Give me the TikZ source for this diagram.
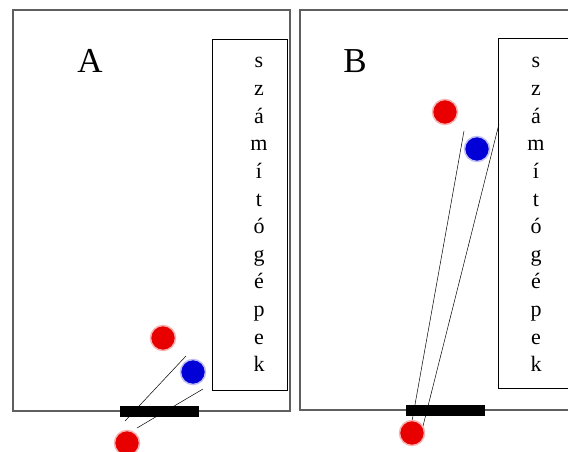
\documentclass[tikz,border=0pt]{standalone}
\usepackage{fontspec}
\setmainfont{Liberation Serif}
\definecolor{BallRed}{RGB}{232,0,0}
\definecolor{BallBlue}{RGB}{0,0,215}
\definecolor{FrameGray}{RGB}{95,95,95}
\usetikzlibrary{positioning}

\begin{document}
\begin{tikzpicture}[x=1pt, y=-1pt,
        frame/.style={draw=FrameGray, line width=1.3pt},
        screen/.style={draw=black, line width=0.9pt},
        bar/.style={fill=black},
        ray/.style={black, line width=0.5pt},
        redball/.style={circle, fill=BallRed, draw=BallRed!30, line width=1.5pt, minimum size=25pt, inner sep=0pt},
        blueball/.style={circle, fill=BallBlue, draw=BallBlue!25, line width=1.5pt, minimum size=25pt, inner sep=0pt},
        letter/.style={font=\fontsize{22}{22}\selectfont, anchor=base},
        panellabel/.style={font=\fontsize{35}{35}\selectfont, anchor=base},
    ]
    \useasboundingbox (0,0) rectangle (568,452);
    \clip (0,0) rectangle (568,452);
    % frames and screens
    \draw[frame] (13,10) rectangle (290,411);
    \draw[screen] (212,39) rectangle (287,390);
    \draw[frame] (300,10) rectangle (590,410);
    \draw[screen] (498,38) rectangle (590,388);
    \node[panellabel] (labA) at (90,73) {A};
    \node[panellabel] (labB) at (355,73) {B};
    \foreach \ch [count=\i from 0] in {s,z,á,m,í,t,ó,g,é,p,e,k} {
        \node[letter] (A-\i) at (259,68+27.6*\i) {\ch};
        \node[letter] (B-\i) at (536,68+27.6*\i) {\ch};
    }
    % rays
    \coordinate (A-r1a) at (186,356);
    \coordinate (A-r1b) at (125,421);
    \coordinate (A-r2a) at (203,389);
    \coordinate (A-r2b) at (137,428);
    \coordinate (B-r1a) at (464,131);
    \coordinate (B-r1b) at (411,427);
    \coordinate (B-r2a) at (499,124);
    \coordinate (B-r2b) at (422,430);
    \draw[ray] (A-r1a) -- (A-r1b);
    \draw[ray] (A-r2a) -- (A-r2b);
    \draw[ray] (B-r1a) -- (B-r1b);
    \draw[ray] (B-r2a) -- (B-r2b);
    % bars
    \fill[bar] (120,406) rectangle (199,417);
    \fill[bar] (406,405) rectangle (485,416);
    % balls
    \node[redball] (A-red) at (163,338) {};
    \node[blueball] (A-blue) at (193,372) {};
    \node[redball] (A-src) at (127,443) {};
    \node[redball] (B-red) at (445,112) {};
    \node[blueball] (B-blue) at (477,149) {};
    \node[redball] (B-src) at (412,433) {};
\end{tikzpicture}
\end{document}
